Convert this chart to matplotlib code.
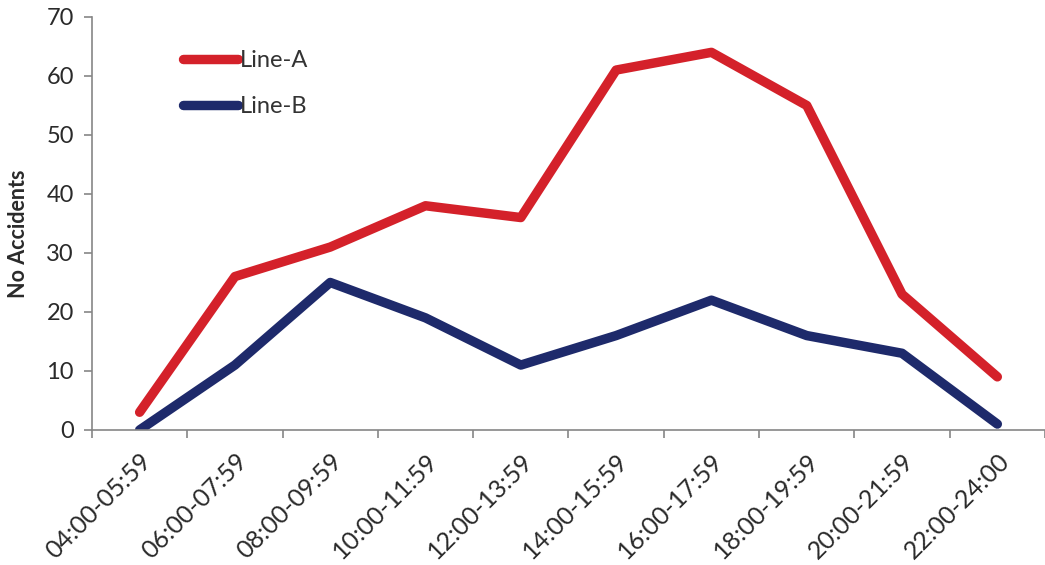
import matplotlib
matplotlib.use("Agg")
import matplotlib.pyplot as plt
import matplotlib.transforms as mtransforms
import numpy as np

periods = ["04:00-05:59", "06:00-07:59", "08:00-09:59", "10:00-11:59", "12:00-13:59",
           "14:00-15:59", "16:00-17:59", "18:00-19:59", "20:00-21:59", "22:00-24:00"]
line_a = [3, 26, 31, 38, 36, 61, 64, 55, 23, 9]
line_b = [0, 11, 25, 19, 11, 16, 22, 16, 13, 1]

plt.rcParams['font.family'] = ['Lato', 'DejaVu Sans']

fig = plt.figure(figsize=(10.45, 5.65), dpi=100)
ax = fig.add_axes([0.088, 0.239, 0.912, 0.731])

x = np.arange(len(periods))
ax.plot(x, line_a, color="#d4212a", lw=6.8, solid_capstyle="round", solid_joinstyle="round", label="Line-A")
ax.plot(x, line_b, color="#1e2a6b", lw=6.8, solid_capstyle="round", solid_joinstyle="round", label="Line-B")

ax.set_xlim(-0.5, len(periods) - 0.5)
ax.set_ylim(0, 70)
ax.set_yticks(range(0, 71, 10))
ax.tick_params(axis="y", labelsize=17, colors="#868686", labelcolor="#2a2a2a", length=6, width=1.2, pad=7)

# ticks sit between categories; labels centred on categories
ax.set_xticks(np.arange(-0.5, len(periods), 1.0))
ax.set_xticklabels([])
ax.set_xticks(x, minor=True)
ax.set_xticklabels(periods, minor=True, rotation=45, ha="right", va="top",
                   rotation_mode="anchor", fontsize=18, color="#2a2a2a")
ax.tick_params(axis="x", which="major", colors="#868686", length=6, width=1.2)
ax.tick_params(axis="x", which="minor", length=0, pad=14)
shift = mtransforms.ScaledTranslation(0, 0, fig.dpi_scale_trans)
for lbl in ax.get_xticklabels(minor=True):
    lbl.set_transform(lbl.get_transform() + shift)

for s in ["top", "right"]:
    ax.spines[s].set_visible(False)
for s in ["left", "bottom"]:
    ax.spines[s].set_color("#868686")
    ax.spines[s].set_linewidth(1.2)

ax.set_ylabel("No Accidents", fontsize=15.5, fontweight="bold", color="#2a2a2a")
ax.yaxis.set_label_coords(-0.066, 0.475)

leg = ax.legend(loc="upper left", bbox_to_anchor=(0.0955, 0.92), frameon=False, fontsize=17,
                handlelength=2.33, handletextpad=0.08, labelspacing=1.05,
                borderaxespad=0, borderpad=0)
for t in leg.get_texts():
    t.set_color("#333333")

fig.savefig("out.png", dpi=100, facecolor="white")
